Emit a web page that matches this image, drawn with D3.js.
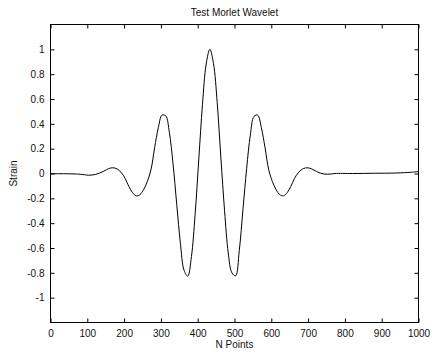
<!DOCTYPE html>
<html>
<head>
<meta charset="utf-8">
<script src="https://cdn.jsdelivr.net/npm/d3@7"></script>
<style>
  html, body { margin: 0; padding: 0; background: #fff; }
  svg { display: block; }
  text { font-family: "Liberation Sans", Arial, sans-serif; fill: #111; }
</style>
</head>
<body>
<svg id="chart" width="434" height="354"></svg>
<script>
// ---- data ----
const title = "Test Morlet Wavelet";
const xLabel = "N Points";
const yLabel = "Strain";
const xTicks = [0, 100, 200, 300, 400, 500, 600, 700, 800, 900, 1000];
const yTicks = [-1, -0.8, -0.6, -0.4, -0.2, 0, 0.2, 0.4, 0.6, 0.8, 1];
const xDomain = [0, 1000];
const yDomain = [-1.2, 1.2];

const sampleX = [
  0, 40, 70,
  93, 103, 113, 123, 133, 143, 153, 163, 173, 183, 193, 203, 213, 223, 233, 243,
  253, 263, 273, 283, 293, 303, 313, 323, 333, 343, 353, 363, 373, 383, 393, 403, 413, 423,
  433,
  443, 453, 463, 473, 483, 493, 503, 513, 523, 533, 543, 553, 563, 573, 583, 593, 603,
  613, 623, 633, 643, 653, 663, 673, 683, 693, 703, 713, 723, 733, 743, 753, 763, 773,
  820, 880, 940, 980, 1000
];
const strain = [
  -0.002, -0.002, -0.004,
  -0.010, -0.014, -0.012, -0.007, 0.003, 0.016, 0.032, 0.044, 0.045, 0.033, 0.005, -0.040,
  -0.105, -0.155, -0.180, -0.170, -0.130, -0.065, 0.030, 0.208, 0.369, 0.470, 0.465, 0.331,
  0.077, -0.247, -0.562, -0.780, -0.827, -0.669, -0.330, 0.116, 0.558, 0.881,
  1.000,
  0.885, 0.570, 0.125, -0.300, -0.640, -0.800, -0.824, -0.620, -0.290, 0.040, 0.310,
  0.460, 0.470, 0.369, 0.208, 0.030, -0.065, -0.130, -0.170, -0.180, -0.155, -0.105, -0.040,
  0.005, 0.033, 0.045, 0.044, 0.032, 0.016, 0.003, -0.004, -0.006, -0.004, 0.000,
  0.000, 0.002, 0.004, 0.010, 0.016
];

(function () {
const svg = d3.select("#chart");
const mLeft = 50.5, mRight = 418.5, mTop = 24.5, mBottom = 322.5;

const x = d3.scaleLinear().domain(xDomain).range([mLeft, mRight]);
const y = d3.scaleLinear().domain(yDomain).range([mBottom, mTop]);

svg.append("rect")
  .attr("x", mLeft).attr("y", mTop)
  .attr("width", mRight - mLeft).attr("height", mBottom - mTop)
  .attr("fill", "#fff").attr("stroke", "#000").attr("stroke-width", 1);

const tickLen = 4;
const fmtY = d => (Math.abs(d) < 1e-9 ? "0" : String(+d.toFixed(1)));

const gB = svg.append("g").attr("transform", `translate(0,${mBottom})`)
  .call(d3.axisBottom(x).tickValues(xTicks).tickSizeInner(-tickLen).tickSizeOuter(0)
    .tickPadding(7).tickFormat(d3.format("d")));
const gT = svg.append("g").attr("transform", `translate(0,${mTop})`)
  .call(d3.axisTop(x).tickValues(xTicks).tickSizeInner(-tickLen).tickSizeOuter(0).tickFormat(""));
const gL = svg.append("g").attr("transform", `translate(${mLeft},0)`)
  .call(d3.axisLeft(y).tickValues(yTicks).tickSizeInner(-tickLen).tickSizeOuter(0)
    .tickPadding(6).tickFormat(fmtY));
const gR = svg.append("g").attr("transform", `translate(${mRight},0)`)
  .call(d3.axisRight(y).tickValues(yTicks).tickSizeInner(-tickLen).tickSizeOuter(0).tickFormat(""));

[gB, gT, gL, gR].forEach(g => {
  g.select(".domain").remove();
  g.selectAll(".tick line").attr("stroke", "#000");
  g.selectAll("text").attr("font-size", 10).attr("fill", "#111")
    .style("font-family", "'Liberation Sans', Arial, sans-serif");
});

const line = d3.line()
  .x((d, i) => x(sampleX[i]))
  .y(d => y(d))
  .curve(d3.curveCatmullRom.alpha(0.5));

svg.append("path")
  .datum(strain)
  .attr("d", line)
  .attr("fill", "none")
  .attr("stroke", "#000")
  .attr("stroke-width", 1);

svg.append("text").attr("x", (mLeft + mRight) / 2).attr("y", 16)
  .attr("text-anchor", "middle").attr("font-size", 10).text(title);
svg.append("text").attr("x", (mLeft + mRight) / 2).attr("y", 348)
  .attr("text-anchor", "middle").attr("font-size", 10).text(xLabel);
svg.append("text")
  .attr("transform", `translate(17,${(mTop + mBottom) / 2}) rotate(-90)`)
  .attr("text-anchor", "middle").attr("font-size", 10).text(yLabel);
})();
</script>
</body>
</html>
